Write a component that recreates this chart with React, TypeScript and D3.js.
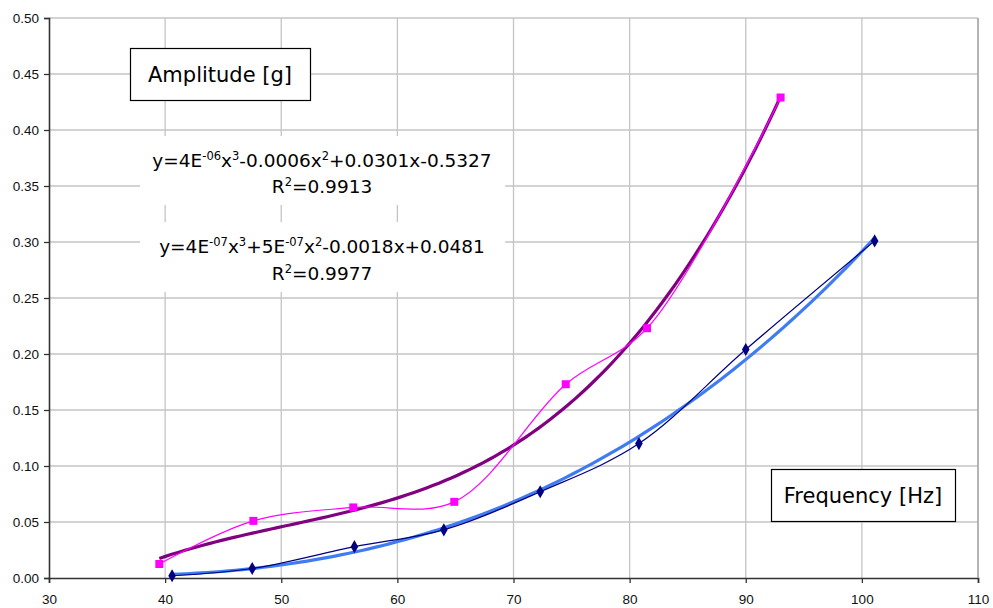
import React, {useEffect, useRef} from 'react';
import * as d3 from 'd3';

// measured points (x in Hz, y in g)
const pinkX = [39.5, 47.6, 56.2, 64.9, 74.5, 81.5, 93.0];
const pinkY = [0.0125, 0.051, 0.063, 0.068, 0.173, 0.223, 0.429];
const navyX = [40.6, 47.5, 56.3, 64.0, 72.3, 80.8, 90.0, 101.1];
const navyY = [0.002, 0.0085, 0.028, 0.043, 0.077, 0.120, 0.204, 0.301];

const xTicks = [30, 40, 50, 60, 70, 80, 90, 100, 110];
const yTicks = [0, 0.05, 0.1, 0.15, 0.2, 0.25, 0.3, 0.35, 0.4, 0.45, 0.5];

const eq1 = [['y=4E', ''], ['-06', 'sup'], ['x', ''], ['3', 'sup'], ['-0.0006x', ''], ['2', 'sup'], ['+0.0301x-0.5327', '']];
const r1 = [['R', ''], ['2', 'sup'], ['=0.9913', '']];
const eq2 = [['y=4E', ''], ['-07', 'sup'], ['x', ''], ['3', 'sup'], ['+5E', ''], ['-07', 'sup'], ['x', ''], ['2', 'sup'], ['-0.0018x+0.0481', '']];
const r2 = [['R', ''], ['2', 'sup'], ['=0.9977', '']];

const W = 993, H = 608;
const M = {left: 49, top: 18, right: 978, bottom: 578};

// least squares cubic, plain normal equations
function cubicFit(xs: number[], ys: number[]) {
    const n = 4;
    const A: number[][] = [];
    for (let i = 0; i < n; i++) {
        A.push(new Array(n + 1).fill(0));
    }
    xs.forEach((x, k) => {
        for (let i = 0; i < n; i++) {
            for (let j = 0; j < n; j++) A[i][j] += Math.pow(x, i + j);
            A[i][n] += ys[k] * Math.pow(x, i);
        }
    });
    for (let c = 0; c < n; c++) {
        let p = c;
        for (let r = c + 1; r < n; r++) if (Math.abs(A[r][c]) > Math.abs(A[p][c])) p = r;
        [A[c], A[p]] = [A[p], A[c]];
        for (let r = 0; r < n; r++) {
            if (r === c) continue;
            const f = A[r][c] / A[c][c];
            for (let k = c; k <= n; k++) A[r][k] -= f * A[c][k];
        }
    }
    const coef = A.map((row, i) => row[n] / row[i]);
    return (x: number) => coef[0] + coef[1] * x + coef[2] * x * x + coef[3] * x * x * x;
}

export default function App() {
    const ref = useRef<SVGSVGElement>(null);

    useEffect(() => {
        const svg = d3.select(ref.current);
        svg.selectAll('*').remove();

        const x = d3.scaleLinear().domain([30, 110]).range([M.left, M.right]);
        const y = d3.scaleLinear().domain([0, 0.5]).range([M.bottom, M.top]);

        svg.append('rect').attr('width', W).attr('height', H).attr('fill', '#fff');

        const grid = svg.append('g').attr('stroke', '#c4c4c4').attr('stroke-width', 1.3);
        grid.selectAll('line.h').data(yTicks.slice(1)).enter().append('line')
            .attr('x1', M.left).attr('x2', M.right)
            .attr('y1', (d) => y(d)).attr('y2', (d) => y(d));
        grid.selectAll('line.v').data(xTicks.slice(1)).enter().append('line')
            .attr('y1', M.top).attr('y2', M.bottom)
            .attr('x1', (d) => x(d)).attr('x2', (d) => x(d));

        // axes
        const yAxis = svg.append('g').attr('transform', `translate(${M.left},0)`)
            .call(d3.axisLeft(y).tickValues(yTicks).tickFormat(d3.format('.2f')).tickSize(5).tickPadding(5));
        const xAxis = svg.append('g').attr('transform', `translate(0,${M.bottom})`)
            .call(d3.axisBottom(x).tickValues(xTicks).tickSize(5).tickPadding(11));
        [yAxis, xAxis].forEach((a) => {
            a.select('.domain').attr('stroke', '#333').attr('stroke-width', 1.6);
            a.selectAll('.tick line').attr('stroke', '#333').attr('stroke-width', 1.3);
            a.selectAll('text').attr('font-family', '"Liberation Sans", Arial, sans-serif')
                .attr('font-size', 13.5).attr('fill', '#111');
        });
        yAxis.selectAll('text').attr('dy', '0.34em');

        // equation labels with white backgrounds
        const eqFont = '"DejaVu Sans", Verdana, sans-serif';
        const writeEq = (parts: string[][], cx: number, by: number) => {
            const t = svg.append('text').attr('x', cx).attr('y', by).attr('text-anchor', 'middle')
                .attr('font-family', eqFont).attr('font-size', 18.5).attr('fill', '#000');
            parts.forEach(([s, k]) => {
                t.append('tspan').text(s)
                    .attr('font-size', k === 'sup' ? 11.5 : 18.5)
                    .attr('baseline-shift', k === 'sup' ? '7' : null);
            });
        };
        svg.append('rect').attr('x', 140).attr('y', 136).attr('width', 365).attr('height', 69).attr('fill', '#fff');
        svg.append('rect').attr('x', 140).attr('y', 222).attr('width', 365).attr('height', 70).attr('fill', '#fff');
        writeEq(eq1, 322, 167);
        writeEq(r1, 322, 193);
        writeEq(eq2, 322, 253);
        writeEq(r2, 322, 280);

        // plot border right side
        svg.append('line').attr('x1', M.right).attr('x2', M.right).attr('y1', M.top).attr('y2', M.bottom)
            .attr('stroke', '#a0a0a0').attr('stroke-width', 1.3);

        const ptsPink = pinkX.map((v, i) => [v, pinkY[i]] as [number, number]);
        const ptsNavy = navyX.map((v, i) => [v, navyY[i]] as [number, number]);

        // trendlines
        const trend = (xs: number[], ys: number[], color: string, w: number) => {
            const f = cubicFit(xs, ys);
            const x0 = d3.min(xs) as number, x1 = d3.max(xs) as number;
            const samples = d3.range(0, 101).map((i) => x0 + (x1 - x0) * i / 100);
            svg.append('path')
                .datum(samples)
                .attr('d', d3.line<number>().x((d) => x(d)).y((d) => y(f(d))))
                .attr('fill', 'none').attr('stroke', color).attr('stroke-width', w);
        };

        const smooth = d3.line<[number, number]>().x((d) => x(d[0])).y((d) => y(d[1]))
            .curve(d3.curveCatmullRom.alpha(0.5));

        trend(navyX, navyY, '#3f7cf4', 3.2);
        svg.append('path').datum(ptsNavy).attr('d', smooth)
            .attr('fill', 'none').attr('stroke', '#000080').attr('stroke-width', 1.2);

        trend(pinkX, pinkY, '#80007f', 3.2);
        svg.append('path').datum(ptsPink).attr('d', smooth)
            .attr('fill', 'none').attr('stroke', '#ff00ff').attr('stroke-width', 1.2);

        svg.selectAll('rect.sq').data(ptsPink).enter().append('rect')
            .attr('x', (d) => x(d[0]) - 4).attr('y', (d) => y(d[1]) - 4)
            .attr('width', 8).attr('height', 8).attr('fill', '#ff00ff');
        svg.selectAll('path.dm').data(ptsNavy).enter().append('path')
            .attr('d', d3.symbol().type(d3.symbolDiamond).size(50))
            .attr('transform', (d) => `translate(${x(d[0])},${y(d[1])})`)
            .attr('fill', '#000080');

        // boxed titles
        const box = (label: string, bx: number, by: number, bw: number) => {
            svg.append('rect').attr('x', bx + 0.5).attr('y', by + 0.5).attr('width', bw).attr('height', 52)
                .attr('fill', '#fff').attr('stroke', '#000').attr('stroke-width', 1.2);
            svg.append('text').attr('x', bx + bw / 2).attr('y', by + 34).attr('text-anchor', 'middle')
                .attr('font-family', eqFont).attr('font-size', 21).attr('fill', '#000').text(label);
        };
        box('Amplitude [g]', 130, 48, 180);
        box('Frequency [Hz]', 771, 469, 184);
    }, []);

    return (
        <svg ref={ref} width={W} height={H} style={{position: 'absolute', left: 0, top: 0}}/>
    );
}
